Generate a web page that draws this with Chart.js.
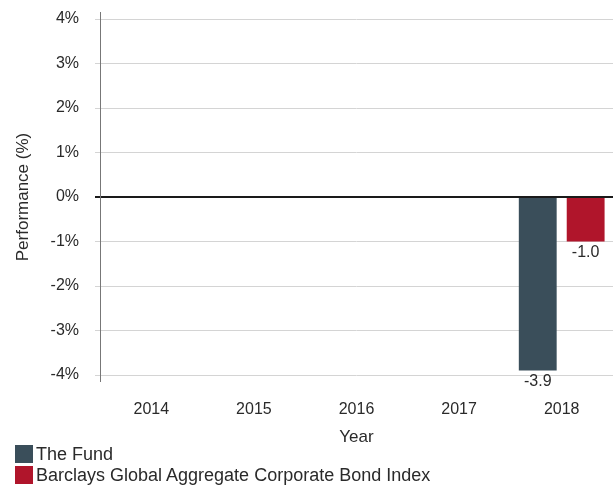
<!DOCTYPE html>
<html>
<head>
<meta charset="utf-8">
<script src="https://cdn.jsdelivr.net/npm/chart.js@4"></script>
<style>
  body { margin: 0; background: #fff; font-family: "Liberation Sans", Arial, sans-serif; }
  #wrap { position: relative; width: 614px; height: 448px; }
  .legend { position: absolute; left: 15px; top: 445px; font-size: 18px; color: #2a2a2a; }
  .legend div { display: flex; align-items: flex-start; height: 21px; line-height: 18px; }
  .legend span.sw { display: inline-block; width: 18px; height: 18px; margin-right: 3px; }
</style>
</head>
<body>
<div id="wrap"><canvas id="ch_perf"></canvas></div>
<div class="legend" id="legend"></div>
<script>
// years and annual performance (%), only 2018 has values
const years = ['2014', '2015', '2016', '2017', '2018'];
const fundPerf = [null, null, null, null, -3.9];
const indexPerf = [null, null, null, null, -1.0];
const yTicks = [-4, -3, -2, -1, 0, 1, 2, 3, 4];
const seriesNames = ['The Fund', 'Barclays Global Aggregate Corporate Bond Index'];
const seriesColors = ['#3a4e5a', '#b0152b'];

const FONT = '"Liberation Sans", Arial, sans-serif';
const TXT = '#2a2a2a';

// value labels under each bar end + y axis line that runs a bit past the plot
const barLabels = {
  id: 'barLabels',
  afterDatasetsDraw(chart) {
    const { ctx, chartArea } = chart;
    ctx.save();
    ctx.strokeStyle = '#777';
    ctx.lineWidth = 1;
    ctx.beginPath();
    ctx.moveTo(chartArea.left + 0.5, chartArea.top - 7);
    ctx.lineTo(chartArea.left + 0.5, chartArea.bottom + 7);
    ctx.stroke();

    ctx.font = '16px ' + FONT;
    ctx.fillStyle = TXT;
    ctx.textAlign = 'center';
    ctx.textBaseline = 'middle';
    chart.data.datasets.forEach((ds, i) => {
      chart.getDatasetMeta(i).data.forEach((bar, j) => {
        const v = ds.data[j];
        if (v == null) return;
        ctx.fillText(v.toFixed(1), bar.x, bar.y + (v < 0 ? 11 : -11));
      });
    });
    ctx.restore();
  }
};

const chart = new Chart(document.getElementById('ch_perf').getContext('2d'), {
  type: 'bar',
  data: {
    labels: years,
    datasets: [
      { label: seriesNames[0], data: fundPerf, backgroundColor: seriesColors[0] },
      { label: seriesNames[1], data: indexPerf, backgroundColor: seriesColors[1] }
    ]
  },
  options: {
    responsive: true,
    maintainAspectRatio: false,
    animation: false,
    categoryPercentage: 0.934,
    barPercentage: 0.79,
    layout: { padding: { top: 19, left: 0, right: 1, bottom: 0 } },
    plugins: { legend: { display: false }, tooltip: { enabled: false } },
    scales: {
      x: {
        afterFit: s => { s.height = 73; },
        grid: { display: false, drawTicks: false },
        border: { display: false },
        ticks: { color: TXT, font: { family: FONT, size: 16 }, padding: 25, maxRotation: 0 },
        title: { display: true, text: 'Year', color: TXT, font: { family: FONT, size: 17 }, padding: { top: 0, bottom: 0 } }
      },
      y: {
        min: -4, max: 4,
        afterFit: s => { s.width = 100; s.paddingTop = 0; s.paddingBottom = 0; },
        afterBuildTicks: s => { s.ticks = yTicks.map(v => ({ value: v })); },
        grid: {
          color: c => c.tick && c.tick.value === 0 ? '#1a1a1a' : '#d4d4d4',
          lineWidth: c => c.tick && c.tick.value === 0 ? 2 : 1,
          tickLength: 5
        },
        border: { display: false },
        ticks: { color: TXT, font: { family: FONT, size: 16 }, padding: 16, callback: v => v + '%' },
        title: { display: true, text: 'Performance (%)', color: TXT, font: { family: FONT, size: 17 }, padding: { top: 13, bottom: 0 } }
      }
    }
  },
  plugins: [barLabels]
});

document.getElementById('legend').innerHTML = seriesNames.map((n, i) =>
  `<div><span class="sw" style="background:${seriesColors[i]}"></span>${n}</div>`).join('');
</script>
</body>
</html>
